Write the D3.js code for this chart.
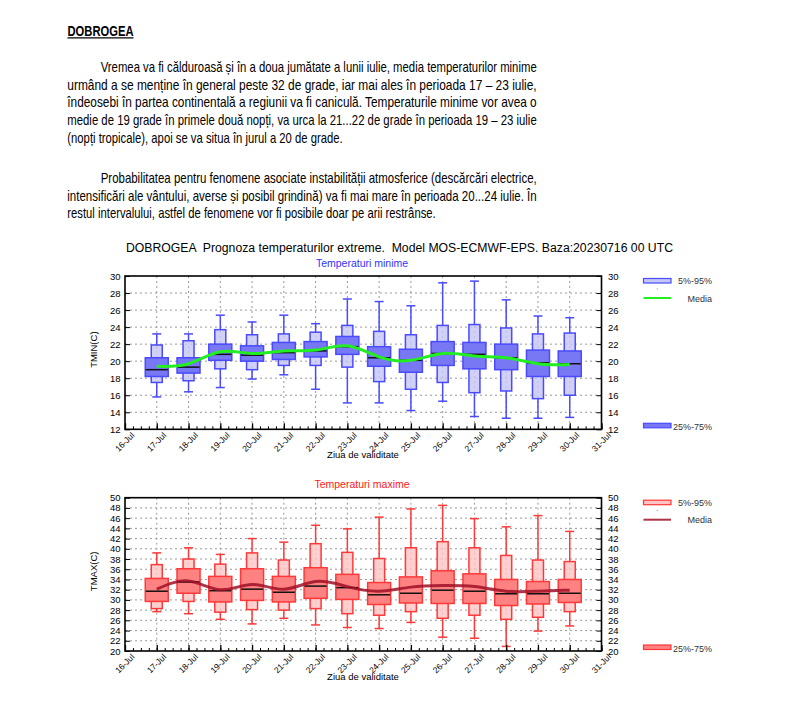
<!DOCTYPE html>
<html>
<head>
<meta charset="utf-8">
<script src="https://cdn.jsdelivr.net/npm/d3@7"></script>
<style>
body { margin: 0; background: #fff; }
text { font-family: "Liberation Sans", Arial, sans-serif; }
.para { font-family: "Liberation Sans Narrow", "Liberation Sans", Arial, sans-serif; font-size: 15px; fill: #000; }
</style>
</head>
<body>
<svg id="chart" width="803" height="717"></svg>
<script>
// forecast days (boxes are drawn on each day)
var days = ["2023-07-17", "2023-07-18", "2023-07-19", "2023-07-20", "2023-07-21", "2023-07-22", "2023-07-23",
            "2023-07-24", "2023-07-25", "2023-07-26", "2023-07-27", "2023-07-28", "2023-07-29", "2023-07-30"];

// TMIN distribution
var tminMax  = [23.2, 23.2, 25.4, 24.6, 25.4, 24.4, 27.3, 27.0, 26.5, 29.2, 29.4, 27.2, 25.3, 25.1];
var tminP95  = [21.9, 22.4, 23.7, 23.1, 23.2, 23.4, 24.2, 23.5, 23.1, 24.2, 24.3, 23.9, 23.2, 23.3];
var tminP75  = [20.4, 20.4, 22.0, 21.8, 22.2, 22.3, 22.9, 21.7, 21.4, 22.3, 22.2, 22.0, 21.3, 21.2];
var tminMed  = [19.0, 19.3, 20.8, 20.7, 21.0, 21.2, 21.7, 20.4, 20.1, 20.9, 20.8, 20.4, 19.8, 19.7];
var tminP25  = [18.2, 18.6, 20.1, 20.0, 20.2, 20.5, 20.8, 19.4, 18.7, 19.5, 19.1, 19.0, 18.2, 18.2];
var tminP05  = [17.5, 17.7, 19.1, 19.0, 19.5, 19.5, 19.3, 17.6, 16.7, 17.5, 16.3, 16.5, 15.6, 16.0];
var tminMin  = [15.8, 16.4, 16.9, 17.9, 18.4, 16.7, 15.1, 15.1, 14.2, 15.3, 13.5, 13.3, 13.3, 13.4];
var tminMean = [19.4, 19.7, 21.1, 20.9, 21.2, 21.3, 21.8, 20.5, 20.1, 20.9, 20.6, 20.4, 19.7, 19.6];

// TMAX distribution
var tmaxMax  = [39.2, 40.2, 38.9, 42.0, 41.3, 44.6, 43.9, 46.2, 47.8, 48.5, 45.9, 44.3, 46.5, 43.4];
var tmaxP95  = [36.9, 38.0, 37.0, 39.2, 37.8, 41.0, 39.3, 38.1, 40.2, 41.4, 40.2, 38.7, 37.8, 37.5];
var tmaxP75  = [34.2, 36.1, 34.6, 36.1, 34.6, 36.3, 35.0, 33.4, 34.5, 35.7, 35.1, 34.0, 33.6, 34.0];
var tmaxMed  = [31.7, 33.5, 31.8, 32.1, 31.5, 32.7, 32.4, 31.0, 31.3, 31.9, 31.7, 31.2, 31.2, 31.3];
var tmaxP25  = [29.7, 31.3, 29.6, 29.9, 29.6, 30.3, 30.1, 29.1, 29.4, 29.3, 29.3, 28.9, 29.2, 29.5];
var tmaxP05  = [28.3, 29.7, 27.6, 28.1, 28.0, 28.3, 27.3, 27.0, 27.7, 26.4, 27.0, 26.2, 26.6, 27.7];
var tmaxMin  = [27.7, 27.3, 26.2, 25.3, 26.4, 25.1, 24.6, 24.4, 25.6, 22.7, 22.5, 20.9, 23.9, 24.9];
var tmaxMean = [32.1, 33.7, 32.0, 33.0, 32.1, 33.6, 32.6, 31.7, 32.5, 32.8, 32.6, 31.7, 31.7, 31.9];

// axis ticks
var tminTicks = [12, 14, 16, 18, 20, 22, 24, 26, 28, 30];
var tmaxTicks = [20, 22, 24, 26, 28, 30, 32, 34, 36, 38, 40, 42, 44, 46, 48, 50];
var legendLabels = ["5%-95%", "Media", "25%-75%"];

var textLines = [
  "Vremea va fi călduroasă și în a doua jumătate a lunii iulie, media temperaturilor minime",
  "urmând a se menține în general peste 32 de grade, iar mai ales în perioada 17 – 23 iulie,",
  "îndeosebi în partea continentală a regiunii va fi caniculă. Temperaturile minime vor avea o",
  "medie de 19 grade în primele două nopți, va urca la 21...22 de grade în perioada 19 – 23 iulie",
  "(nopți tropicale), apoi se va situa în jurul a 20 de grade.",
  "Probabilitatea pentru fenomene asociate instabilității atmosferice (descărcări electrice,",
  "intensificări ale vântului, averse și posibil grindină) va fi mai mare în perioada 20...24 iulie. În",
  "restul intervalului, astfel de fenomene vor fi posibile doar pe arii restrânse."
];

var svg = d3.select("#chart");
var parse = d3.timeParse("%Y-%m-%d");

// ---- text block ----
svg.append("text")
    .attr("x", 67.5).attr("y", 35.5)
    .style("font-size", "15px").style("font-weight", "bold")
    .attr("textLength", 66).attr("lengthAdjust", "spacingAndGlyphs")
    .text("DOBROGEA");
svg.append("line").attr("x1", 67.5).attr("x2", 133.5).attr("y1", 37.8).attr("y2", 37.8)
    .attr("stroke", "#000").attr("stroke-width", 1.3);

var lineLayout = [
  {x: 100.7, y: 71.5, w: 436}, {x: 67.3, y: 89.5, w: 469.4}, {x: 67.3, y: 107, w: 469.4},
  {x: 67.3, y: 125, w: 469.4}, {x: 67.3, y: 143, w: 275.4},
  {x: 100.7, y: 182.5, w: 436}, {x: 67.3, y: 200.5, w: 469.4}, {x: 67.3, y: 218, w: 368.4}
];
svg.selectAll("text.para").data(textLines).enter().append("text")
    .attr("class", "para")
    .attr("x", function(d, i) { return lineLayout[i].x; })
    .attr("y", function(d, i) { return lineLayout[i].y; })
    .attr("textLength", function(d, i) { return lineLayout[i].w; })
    .attr("lengthAdjust", "spacingAndGlyphs")
    .text(function(d) { return d; });

// ---- chart title ----
svg.append("text")
    .attr("x", 126).attr("y", 251.5)
    .style("font-size", "12px").style("white-space", "pre")
    .attr("textLength", 547).attr("lengthAdjust", "spacingAndGlyphs")
    .text("DOBROGEA  Prognoza temperaturilor extreme.  Model MOS-ECMWF-EPS. Baza:20230716 00 UTC");

var x = d3.scaleTime()
    .domain([parse("2023-07-16"), parse("2023-07-31")])
    .range([125, 601.5]);

function drawPanel(p) {
  var y = d3.scaleLinear().domain(p.domain).range([p.bottom, p.top]);
  var g = svg.append("g");

  g.append("text").attr("x", 362).attr("y", p.top - 9.5)
      .attr("text-anchor", "middle").style("font-size", "10.5px").attr("fill", p.titleColor)
      .text(p.title);

  // grid
  g.append("g").selectAll("line").data(p.ticks.slice(1, -1)).enter().append("line")
      .attr("x1", x.range()[0]).attr("x2", x.range()[1])
      .attr("y1", function(d) { return y(d); }).attr("y2", function(d) { return y(d); })
      .attr("stroke", "#999").attr("stroke-width", 1).attr("stroke-dasharray", "2,3");
  g.append("g").selectAll("line").data(days).enter().append("line")
      .attr("x1", function(d) { return x(parse(d)); }).attr("x2", function(d) { return x(parse(d)); })
      .attr("y1", p.top).attr("y2", p.bottom)
      .attr("stroke", "#999").attr("stroke-width", 1).attr("stroke-dasharray", "2,3");

  var rows = days.map(function(d, i) {
    return {day: parse(d), max: p.max[i], p95: p.p95[i], p75: p.p75[i], med: p.med[i],
            p25: p.p25[i], p05: p.p05[i], min: p.min[i]};
  });

  var bx = g.append("g").selectAll("g").data(rows).enter().append("g")
      .attr("transform", function(d) { return "translate(" + x(d.day) + ",0)"; });

  // whiskers
  bx.append("line").attr("x1", 0).attr("x2", 0)
      .attr("y1", function(d) { return y(d.max); }).attr("y2", function(d) { return y(d.p95); })
      .attr("stroke", p.stroke).attr("stroke-width", 1.5);
  bx.append("line").attr("x1", 0).attr("x2", 0)
      .attr("y1", function(d) { return y(d.p05); }).attr("y2", function(d) { return y(d.min); })
      .attr("stroke", p.stroke).attr("stroke-width", 1.5);
  bx.append("line").attr("x1", -4.5).attr("x2", 4.5)
      .attr("y1", function(d) { return y(d.max); }).attr("y2", function(d) { return y(d.max); })
      .attr("stroke", p.stroke).attr("stroke-width", 1.5);
  bx.append("line").attr("x1", -4.5).attr("x2", 4.5)
      .attr("y1", function(d) { return y(d.min); }).attr("y2", function(d) { return y(d.min); })
      .attr("stroke", p.stroke).attr("stroke-width", 1.5);

  // 5-95 box
  bx.append("rect").attr("x", -5.5).attr("width", 11)
      .attr("y", function(d) { return y(d.p95); })
      .attr("height", function(d) { return y(d.p05) - y(d.p95); })
      .attr("fill", p.light).attr("fill-opacity", 0.8)
      .attr("stroke", p.stroke).attr("stroke-width", 1.5);
  // 25-75 box
  bx.append("rect").attr("x", -11.5).attr("width", 23)
      .attr("y", function(d) { return y(d.p75); })
      .attr("height", function(d) { return y(d.p25) - y(d.p75); })
      .attr("fill", p.dark)
      .attr("stroke", p.stroke).attr("stroke-width", 1.5);
  // median
  bx.append("line").attr("x1", -11).attr("x2", 11)
      .attr("y1", function(d) { return y(d.med); }).attr("y2", function(d) { return y(d.med); })
      .attr("stroke", "#111").attr("stroke-width", 1.5);

  // mean curve
  var line = d3.line()
      .x(function(d) { return x(parse(d)); })
      .y(function(d, i) { return y(p.mean[i]); })
      .curve(d3.curveNatural);
  g.append("path").datum(days).attr("d", line)
      .attr("fill", "none").attr("stroke", p.meanColor).attr("stroke-width", 3)
      .attr("stroke-opacity", p.meanOpacity);

  // axes
  var ax = g.append("g").attr("transform", "translate(0," + p.bottom + ")")
      .call(d3.axisBottom(x).ticks(d3.timeHour.every(6)).tickSize(-3).tickFormat(""));
  ax.select(".domain").remove();
  var axM = g.append("g").attr("transform", "translate(0," + p.bottom + ")")
      .call(d3.axisBottom(x).ticks(d3.timeDay.every(1)).tickSize(-6)
            .tickFormat(d3.timeFormat("%d-%b")));
  axM.select(".domain").remove();
  axM.selectAll("line").attr("stroke-width", 1.3);
  axM.selectAll("text")
      .attr("y", 0).attr("dy", 0)
      .attr("transform", "translate(9.5,6.5) rotate(-45)")
      .style("text-anchor", "end").style("font-size", "8.5px").style("font-family", "Liberation Sans, Arial, sans-serif");

  var ayL = g.append("g").attr("transform", "translate(125,0)")
      .call(d3.axisLeft(y).tickValues(p.ticks).tickSize(-5).tickPadding(4.5));
  ayL.select(".domain").remove();
  ayL.selectAll("text").style("font-size", "9.5px").style("font-family", "Liberation Sans, Arial, sans-serif");
  var ayR = g.append("g").attr("transform", "translate(601.5,0)")
      .call(d3.axisRight(y).tickValues(p.ticks).tickSize(-5).tickPadding(6.5));
  ayR.select(".domain").remove();
  ayR.selectAll("text").style("font-size", "9.5px").style("font-family", "Liberation Sans, Arial, sans-serif");

  g.append("rect").attr("x", 125).attr("y", p.top).attr("width", 476.5).attr("height", p.bottom - p.top)
      .attr("fill", "none").attr("stroke", "#000").attr("stroke-width", 1.6);

  g.append("text").attr("transform", "translate(97," + ((p.top + p.bottom) / 2 - 3) + ") rotate(-90)")
      .attr("text-anchor", "middle").style("font-size", "9.5px").text(p.ylabel);
  g.append("text").attr("x", 363).attr("y", p.bottom + p.xlabOff)
      .attr("text-anchor", "middle").style("font-size", "9.5px").text("Ziua de validitate");

  // legend
  var lg = g.append("g").style("font-size", "9px").attr("fill", "#333");
  lg.append("rect").attr("x", 643.5).attr("y", p.top + 2.5).attr("width", 27.5).attr("height", 4.5)
      .attr("fill", p.light).attr("stroke", p.stroke).attr("stroke-width", 1.2);
  lg.append("text").attr("x", 712).attr("y", p.top + 8).attr("text-anchor", "end").text(legendLabels[0]);
  lg.append("rect").attr("x", 656.8).attr("y", p.top + 12.5).attr("width", 0.8).attr("height", 0.8).attr("fill", "#555");
  lg.append("line").attr("x1", 643.5).attr("x2", 671).attr("y1", p.top + 22).attr("y2", p.top + 22)
      .attr("stroke", p.meanColor).attr("stroke-width", 2).attr("stroke-opacity", p.meanOpacity);
  lg.append("text").attr("x", 712).attr("y", p.top + 25.5).attr("text-anchor", "end").text(legendLabels[1]);
  lg.append("rect").attr("x", 643.5).attr("y", p.bottom - 6).attr("width", 27.5).attr("height", 4.5)
      .attr("fill", p.dark).attr("stroke", p.stroke).attr("stroke-width", 1.2);
  lg.append("text").attr("x", 712).attr("y", p.bottom + 0.5).attr("text-anchor", "end").text(legendLabels[2]);
}

drawPanel({
  top: 276, bottom: 429.3, domain: [12, 30], ticks: tminTicks,
  max: tminMax, p95: tminP95, p75: tminP75, med: tminMed, p25: tminP25, p05: tminP05, min: tminMin, mean: tminMean,
  title: "Temperaturi minime", titleColor: "#3333ff", ylabel: "TMIN(C)", xlabOff: 29,
  stroke: "#4a4aff", light: "#c6c6f6", dark: "#7878f4", meanColor: "#22ee22", meanOpacity: 1
});

drawPanel({
  top: 497.7, bottom: 651, domain: [20, 50], ticks: tmaxTicks,
  max: tmaxMax, p95: tmaxP95, p75: tmaxP75, med: tmaxMed, p25: tmaxP25, p05: tmaxP05, min: tmaxMin, mean: tmaxMean,
  title: "Temperaturi maxime", titleColor: "#ff2020", ylabel: "TMAX(C)", xlabOff: 29,
  stroke: "#ff3838", light: "#ffc4c4", dark: "#ff8282", meanColor: "#a01028", meanOpacity: 0.85
});
</script>
</body>
</html>
